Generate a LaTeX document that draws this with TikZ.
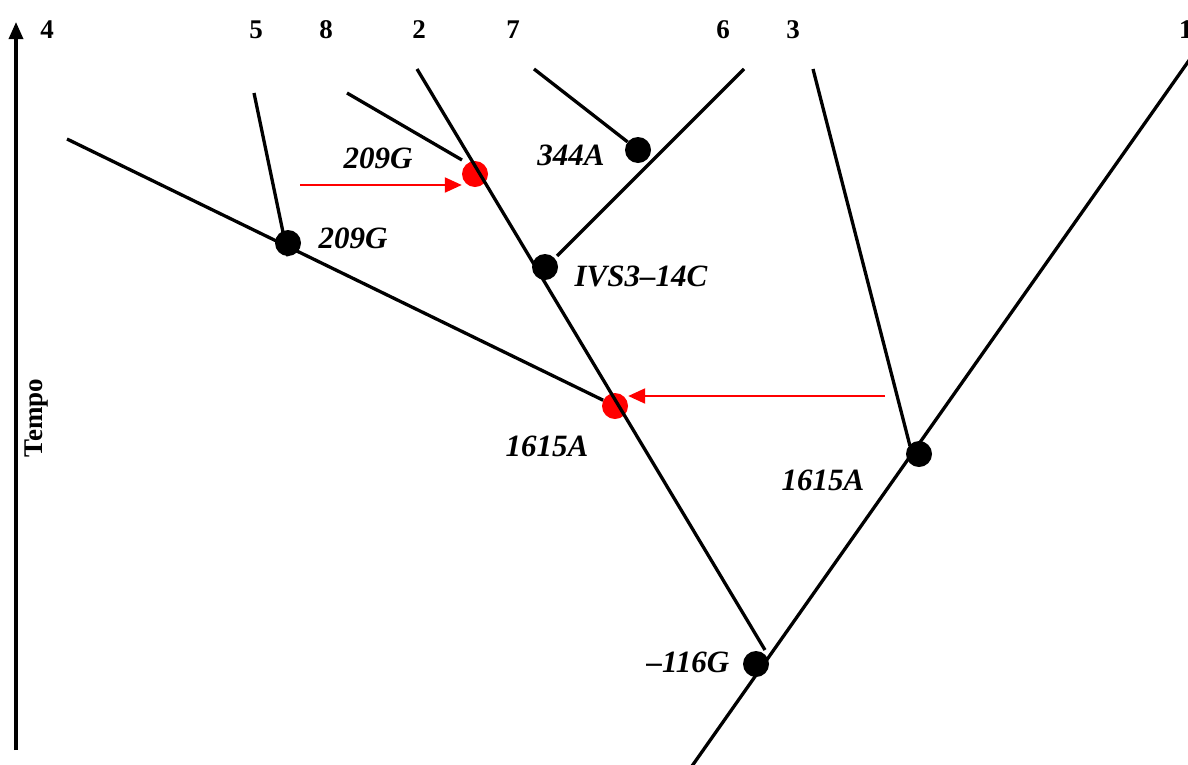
\documentclass[tikz,border=0pt]{standalone}
\usepackage{fontspec}
\setmainfont{Liberation Serif}
\usetikzlibrary{arrows.meta}
\begin{document}
\begin{tikzpicture}[x=1pt,y=-1pt,
  branch/.style={line width=3.3pt,black},
  bnode/.style={circle,fill=black,inner sep=0pt,minimum size=26pt},
  rnode/.style={circle,fill=red,inner sep=0pt,minimum size=26pt},
  taxon/.style={font=\fontsize{27}{27}\selectfont\bfseries,inner sep=0pt},
  mut/.style={font=\fontsize{31}{31}\selectfont\bfseries\itshape,inner sep=0pt},
  redarrow/.style={red,line width=2.2pt,-{Triangle[length=17pt,width=15pt]}}]
\useasboundingbox (0,0) rectangle (1188,764);
% axis
\coordinate (axb) at (16,750);
\coordinate (axt) at (16,22);
\draw[line width=3.3pt,-{Triangle[length=17pt,width=14pt]}] (axb) -- (axt);
\node[taxon,rotate=90] (tempo) at (37,418) {Tempo};
% taxa labels
\node[taxon] (t4) at (47,30) {4};
\node[taxon] (t5) at (256,30) {5};
\node[taxon] (t8) at (326,30) {8};
\node[taxon] (t2) at (419,30) {2};
\node[taxon] (t7) at (513,30) {7};
\node[taxon] (t6) at (723,30) {6};
\node[taxon] (t3) at (793,30) {3};
\node[taxon,anchor=west] (t1) at (1179,30) {1};
% branch ends
\coordinate (e4) at (67,139);
\coordinate (e5) at (254,93);
\coordinate (e8) at (347,93);
\coordinate (e8b) at (462,160);
\coordinate (e2) at (417,69);
\coordinate (e7) at (534,69);
\coordinate (e6) at (744,69);
\coordinate (e6b) at (557,256);
\coordinate (e3) at (813,69);
\coordinate (e3b) at (910,446);
\coordinate (e1) at (1190,59);
\coordinate (root) at (692,766);
\coordinate (e2b) at (765,650);
% nodes
\node[bnode] (n209) at (288,243) {};
\node[rnode] (r209) at (475,174) {};
\node[bnode] (n344) at (638,150) {};
\node[bnode] (nivs) at (545,267) {};
\node[rnode] (r1615) at (615,406) {};
\node[bnode] (n1615) at (919,454) {};
\node[bnode] (n116) at (756,664) {};
% branches
\draw[branch] (e4) -- (r1615);
\draw[branch] (e5) -- (n209.south);
\draw[branch] (e8) -- (e8b);
\draw[branch] (e2) -- (e2b);
\draw[branch] (e7) -- (n344);
\draw[branch] (e6) -- (e6b);
\draw[branch] (e3) -- (e3b);
\draw[branch] (e1) -- (root);
% red arrows
\coordinate (a1s) at (300,185);
\coordinate (a2s) at (885,396);
\draw[redarrow] (a1s) -- (a1s -| r209.west);
\draw[redarrow] (a2s) -- (a2s -| r1615.east);
% labels
\node[mut] (l1) at (378,158) {209G};
\node[mut] (l2) at (353,238) {209G};
\node[mut] (l3) at (571,155) {344A};
\node[mut] (l4) at (641,276) {IVS3–14C};
\node[mut] (l5) at (547,446) {1615A};
\node[mut] (l6) at (823,480) {1615A};
\node[mut] (l7) at (688,662) {–116G};
\end{tikzpicture}
\end{document}
